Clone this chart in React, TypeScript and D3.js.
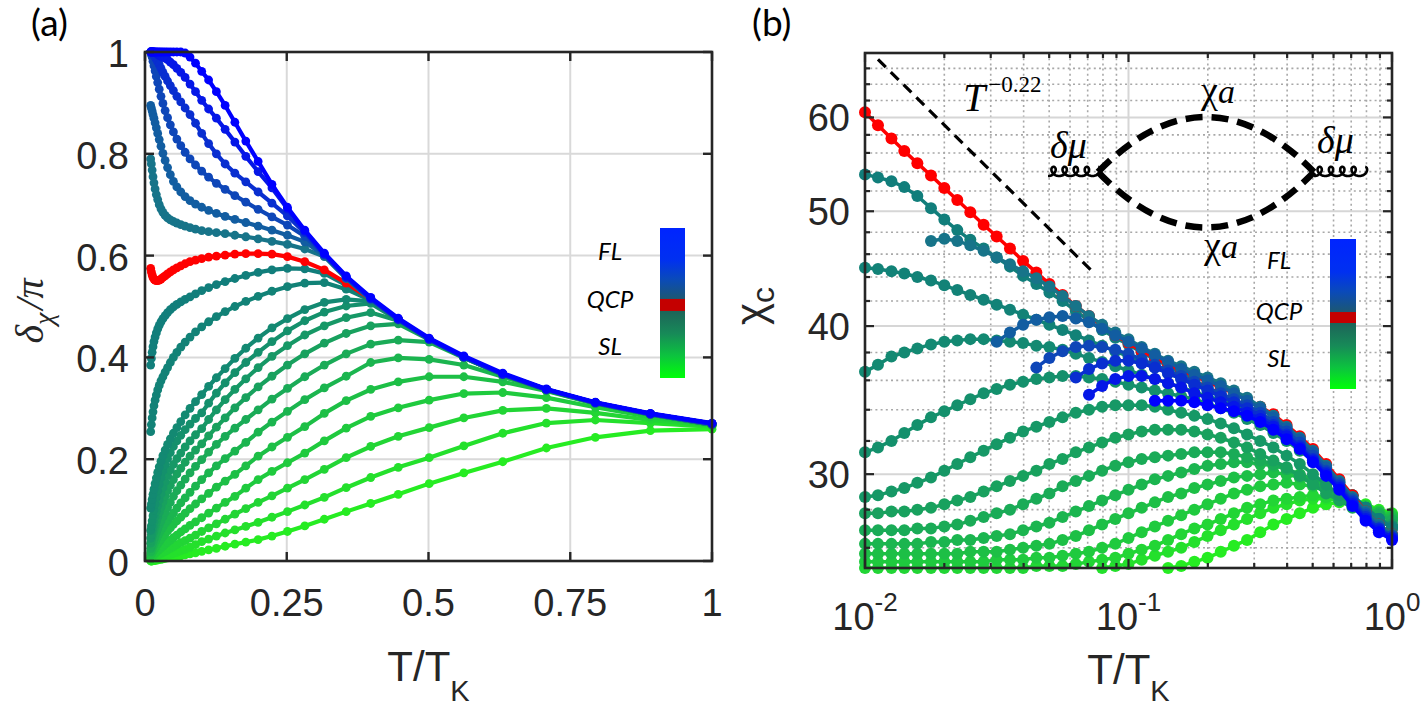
import React from 'react';
import * as d3 from 'd3';

// temperature grid shared by every curve (T/T_K, 20 points per decade)
const T_GRID = [
  0.0100, 0.0112, 0.0126, 0.0141, 0.0158, 0.0178, 0.0200, 0.0224, 0.0251, 0.0282,
  0.0316, 0.0355, 0.0398, 0.0447, 0.0501, 0.0562, 0.0631, 0.0708, 0.0794, 0.0891,
  0.1000, 0.1122, 0.1259, 0.1413, 0.1585, 0.1778, 0.1995, 0.2239, 0.2512, 0.2818,
  0.3162, 0.3548, 0.3981, 0.4467, 0.5012, 0.5623, 0.6310, 0.7079, 0.7943, 0.8913,
  1.0000,
];

// ---- panel (a): delta_chi / pi ----
const deltaQCP = [
  0.575, 0.568, 0.562, 0.557, 0.554, 0.552, 0.551, 0.551, 0.552, 0.554,
  0.557, 0.560, 0.564, 0.568, 0.572, 0.576, 0.580, 0.584, 0.588, 0.591,
  0.594, 0.597, 0.599, 0.601, 0.603, 0.604, 0.604, 0.603, 0.598, 0.588,
  0.572, 0.546, 0.514, 0.475, 0.436, 0.401, 0.367, 0.337, 0.311, 0.289,
  0.270,
];

// FL side, nearest to the QCP first
const deltaFL: number[][] = [
  [0.790, 0.780, 0.768, 0.755, 0.743, 0.731, 0.720, 0.710, 0.700, 0.692,
    0.685, 0.679, 0.674, 0.670, 0.667, 0.664, 0.661, 0.658, 0.655, 0.652,
    0.649, 0.647, 0.645, 0.643, 0.640, 0.637, 0.633, 0.628, 0.622, 0.613,
    0.598, 0.555, 0.513, 0.474, 0.435, 0.400, 0.367, 0.337, 0.311, 0.289, 0.270],
  [0.895, 0.890, 0.884, 0.877, 0.870, 0.861, 0.851, 0.840, 0.828, 0.815,
    0.801, 0.787, 0.773, 0.759, 0.746, 0.735, 0.725, 0.716, 0.708, 0.701,
    0.695, 0.689, 0.683, 0.677, 0.671, 0.665, 0.658, 0.650, 0.640, 0.627,
    0.600, 0.556, 0.514, 0.474, 0.436, 0.401, 0.367, 0.337, 0.311, 0.289, 0.270],
  [1.000, 0.995, 0.990, 0.982, 0.973, 0.963, 0.952, 0.940, 0.927, 0.913,
    0.899, 0.885, 0.871, 0.857, 0.843, 0.829, 0.816, 0.803, 0.790, 0.778,
    0.766, 0.754, 0.742, 0.730, 0.718, 0.705, 0.691, 0.676, 0.660, 0.638,
    0.602, 0.557, 0.515, 0.475, 0.436, 0.401, 0.367, 0.337, 0.311, 0.289, 0.270],
  [1.000, 0.999, 0.998, 0.996, 0.993, 0.990, 0.986, 0.981, 0.975, 0.968,
    0.960, 0.952, 0.943, 0.934, 0.924, 0.913, 0.902, 0.890, 0.877, 0.860,
    0.840, 0.820, 0.800, 0.780, 0.762, 0.745, 0.725, 0.703, 0.678, 0.645,
    0.603, 0.558, 0.516, 0.475, 0.436, 0.401, 0.367, 0.337, 0.311, 0.289, 0.270],
  [1.000, 1.000, 1.000, 1.000, 1.000, 0.999, 0.998, 0.996, 0.993, 0.992,
    0.990, 0.988, 0.985, 0.980, 0.975, 0.968, 0.960, 0.950, 0.937, 0.922,
    0.905, 0.888, 0.870, 0.848, 0.823, 0.795, 0.765, 0.733, 0.692, 0.648,
    0.603, 0.558, 0.516, 0.475, 0.436, 0.401, 0.367, 0.337, 0.311, 0.289, 0.270],
  [1.000, 1.000, 1.000, 1.000, 1.000, 1.000, 1.000, 1.000, 1.000, 1.000,
    1.000, 1.000, 1.000, 1.000, 1.000, 1.000, 1.000, 0.998, 0.990, 0.978,
    0.962, 0.945, 0.922, 0.895, 0.862, 0.825, 0.785, 0.740, 0.695, 0.650,
    0.605, 0.560, 0.518, 0.477, 0.438, 0.403, 0.369, 0.338, 0.312, 0.290, 0.271],
];

// SL side, nearest to the QCP first
const deltaSL: number[][] = [
  [0.385, 0.398, 0.410, 0.421, 0.431, 0.440, 0.448, 0.456, 0.463, 0.470,
    0.476, 0.482, 0.488, 0.494, 0.499, 0.504, 0.509, 0.514, 0.519, 0.525,
    0.531, 0.537, 0.543, 0.549, 0.555, 0.561, 0.567, 0.572, 0.575, 0.574,
    0.565, 0.542, 0.513, 0.474, 0.436, 0.401, 0.367, 0.337, 0.310, 0.288, 0.269],
  [0.254, 0.268, 0.281, 0.293, 0.305, 0.316, 0.326, 0.336, 0.345, 0.354,
    0.362, 0.371, 0.380, 0.390, 0.400, 0.410, 0.420, 0.430, 0.440, 0.450,
    0.460, 0.470, 0.480, 0.490, 0.500, 0.510, 0.520, 0.530, 0.539, 0.546,
    0.547, 0.534, 0.512, 0.474, 0.435, 0.400, 0.366, 0.336, 0.310, 0.288, 0.268],
  [0.104, 0.112, 0.121, 0.131, 0.141, 0.152, 0.163, 0.174, 0.185, 0.196,
    0.207, 0.218, 0.229, 0.240, 0.251, 0.262, 0.274, 0.287, 0.300, 0.313,
    0.327, 0.343, 0.360, 0.378, 0.398, 0.418, 0.438, 0.458, 0.476, 0.494,
    0.508, 0.514, 0.510, 0.474, 0.435, 0.400, 0.366, 0.336, 0.310, 0.288, 0.268],
  [0.060, 0.069, 0.079, 0.089, 0.100, 0.112, 0.125, 0.138, 0.151, 0.164,
    0.177, 0.189, 0.201, 0.213, 0.225, 0.236, 0.247, 0.258, 0.269, 0.280,
    0.291, 0.310, 0.330, 0.350, 0.370, 0.390, 0.410, 0.431, 0.452, 0.472,
    0.489, 0.501, 0.506, 0.473, 0.436, 0.400, 0.366, 0.336, 0.310, 0.288, 0.268],
  [0.045, 0.052, 0.060, 0.068, 0.077, 0.087, 0.098, 0.109, 0.120, 0.132,
    0.144, 0.156, 0.168, 0.179, 0.190, 0.201, 0.212, 0.224, 0.236, 0.248,
    0.260, 0.278, 0.297, 0.317, 0.337, 0.358, 0.380, 0.402, 0.423, 0.444,
    0.462, 0.478, 0.488, 0.472, 0.436, 0.400, 0.366, 0.336, 0.310, 0.288, 0.268],
  [0.035, 0.041, 0.047, 0.053, 0.060, 0.068, 0.077, 0.086, 0.096, 0.106,
    0.116, 0.127, 0.138, 0.149, 0.160, 0.171, 0.182, 0.194, 0.206, 0.218,
    0.230, 0.246, 0.263, 0.281, 0.301, 0.321, 0.342, 0.363, 0.385, 0.407,
    0.428, 0.447, 0.462, 0.466, 0.435, 0.400, 0.366, 0.336, 0.310, 0.288, 0.268],
  [0.025, 0.029, 0.033, 0.038, 0.043, 0.049, 0.056, 0.063, 0.071, 0.079,
    0.087, 0.096, 0.105, 0.115, 0.127, 0.138, 0.149, 0.161, 0.173, 0.186,
    0.199, 0.214, 0.229, 0.245, 0.261, 0.278, 0.297, 0.318, 0.339, 0.362,
    0.385, 0.407, 0.426, 0.434, 0.430, 0.399, 0.366, 0.336, 0.310, 0.288, 0.268],
  [0.018, 0.021, 0.025, 0.029, 0.033, 0.038, 0.043, 0.049, 0.055, 0.061,
    0.067, 0.074, 0.080, 0.087, 0.094, 0.104, 0.114, 0.124, 0.135, 0.147,
    0.160, 0.173, 0.187, 0.201, 0.216, 0.233, 0.253, 0.273, 0.294, 0.317,
    0.340, 0.363, 0.390, 0.399, 0.396, 0.385, 0.362, 0.335, 0.309, 0.288, 0.268],
  [0.012, 0.014, 0.017, 0.020, 0.023, 0.026, 0.030, 0.034, 0.038, 0.043,
    0.048, 0.053, 0.059, 0.065, 0.072, 0.079, 0.086, 0.094, 0.103, 0.112,
    0.122, 0.133, 0.145, 0.157, 0.170, 0.187, 0.206, 0.224, 0.243, 0.264,
    0.290, 0.315, 0.337, 0.352, 0.362, 0.362, 0.352, 0.334, 0.309, 0.287, 0.268],
  [0.007, 0.008, 0.010, 0.011, 0.013, 0.015, 0.018, 0.020, 0.023, 0.026,
    0.029, 0.033, 0.037, 0.041, 0.046, 0.051, 0.057, 0.063, 0.070, 0.077,
    0.085, 0.094, 0.104, 0.115, 0.127, 0.143, 0.160, 0.176, 0.193, 0.212,
    0.236, 0.261, 0.284, 0.301, 0.316, 0.329, 0.331, 0.321, 0.302, 0.283, 0.267],
  [0.004, 0.005, 0.006, 0.007, 0.008, 0.009, 0.010, 0.012, 0.013, 0.015,
    0.017, 0.019, 0.022, 0.025, 0.028, 0.032, 0.036, 0.040, 0.045, 0.051,
    0.058, 0.065, 0.073, 0.082, 0.092, 0.103, 0.115, 0.128, 0.143, 0.160,
    0.180, 0.203, 0.225, 0.245, 0.262, 0.281, 0.296, 0.300, 0.291, 0.277, 0.266],
  [0.002, 0.002, 0.003, 0.003, 0.004, 0.004, 0.005, 0.006, 0.007, 0.008,
    0.009, 0.010, 0.012, 0.013, 0.015, 0.017, 0.020, 0.023, 0.027, 0.032,
    0.038, 0.043, 0.049, 0.055, 0.061, 0.068, 0.076, 0.086, 0.097, 0.110,
    0.125, 0.144, 0.164, 0.184, 0.203, 0.226, 0.251, 0.271, 0.277, 0.271, 0.264],
  [0.000, 0.000, 0.000, 0.001, 0.001, 0.001, 0.002, 0.002, 0.003, 0.003,
    0.004, 0.005, 0.006, 0.007, 0.008, 0.009, 0.010, 0.012, 0.014, 0.016,
    0.019, 0.022, 0.025, 0.029, 0.033, 0.037, 0.042, 0.049, 0.058, 0.069,
    0.082, 0.097, 0.113, 0.131, 0.152, 0.173, 0.195, 0.222, 0.243, 0.256, 0.259],
];

// ---- panel (b): chi_c ----
const chiQCP = [
  60.6, 59.1, 57.6, 56.2, 54.9, 53.6, 52.3, 51.1, 49.9, 48.7,
  47.6, 46.5, 45.4, 44.4, 43.4, 42.5, 41.6, 40.8, 40.0, 39.3,
  38.7, 38.1, 37.6, 37.1, 36.7, 36.3, 35.9, 35.5, 35.1, 34.7,
  34.2, 33.7, 33.0, 32.3, 31.5, 30.6, 29.7, 28.8, 27.9, 27.2,
  26.7,
];

// FL curves in (b) begin part way along T_GRID: index of the first point
const chiFLStart = [5, 10, 13, 16, 17, 22];
const chiFL: number[][] = [
  [47.2, 47.4, 47.2, 46.8, 46.3, 45.7, 45.1, 44.5, 43.9, 43.2, 42.4, 41.6, 40.8, 40.1,
    39.5, 39.0, 38.4, 37.9, 37.4, 37.0, 36.6, 36.2, 35.8, 35.3, 34.8, 34.2, 33.6, 32.9,
    32.2, 31.4, 30.5, 29.6, 28.7, 27.9, 27.2, 26.7],
  [38.8, 39.5, 40.1, 40.5, 40.7, 40.8, 40.6, 40.3, 39.8, 39.3, 38.8, 38.3, 37.8, 37.3,
    36.8, 36.4, 36.0, 35.6, 35.1, 34.6, 34.1, 33.5, 32.8, 32.1, 31.3, 30.4, 29.5, 28.6,
    27.8, 27.1, 26.6],
  [36.9, 37.6, 38.1, 38.4, 38.5, 38.4, 38.2, 37.9, 37.5, 37.1, 36.7, 36.3, 35.9, 35.5,
    35.1, 34.7, 34.3, 33.8, 33.2, 32.6, 31.9, 31.1, 30.2, 29.4, 28.5, 27.7, 27.0, 26.6],
  [36.2, 36.8, 37.2, 37.4, 37.4, 37.2, 36.9, 36.5, 36.1, 35.7, 35.3, 34.9, 34.5, 34.1,
    33.6, 33.0, 32.4, 31.7, 30.9, 30.1, 29.3, 28.4, 27.6, 27.0, 26.5],
  [35.0, 35.6, 36.1, 36.3, 36.3, 36.1, 35.8, 35.5, 35.1, 34.8, 34.5, 34.2, 33.8, 33.4,
    32.9, 32.3, 31.6, 30.8, 30.0, 29.2, 28.3, 27.5, 26.9, 26.5],
  [34.6, 34.6, 34.6, 34.5, 34.3, 34.1, 33.9, 33.6, 33.2, 32.7, 32.1, 31.5, 30.7, 29.9,
    29.1, 28.2, 27.4, 26.8, 26.4],
];

const chiSL: number[][] = [
  [53.7, 53.4, 53.0, 52.4, 51.5, 50.3, 49.2, 48.2, 47.3, 46.5,
    45.7, 44.9, 44.1, 43.4, 42.7, 42.0, 41.2, 40.4, 39.7, 39.1,
    38.6, 38.0, 37.5, 37.0, 36.5, 36.0, 35.5, 35.0, 34.6, 34.1,
    33.6, 33.0, 32.4, 31.7, 31.0, 30.3, 29.6, 28.8, 28.1, 27.5, 27.0],
  [44.8, 44.7, 44.5, 44.3, 44.0, 43.7, 43.3, 42.9, 42.5, 42.1,
    41.7, 41.3, 40.9, 40.5, 40.1, 39.7, 39.3, 38.9, 38.5, 38.1,
    37.7, 37.3, 36.9, 36.5, 36.1, 35.7, 35.3, 34.9, 34.4, 33.9,
    33.4, 32.8, 32.2, 31.6, 30.9, 30.2, 29.5, 28.8, 28.1, 27.5, 27.0],
  [36.6, 37.1, 37.7, 38.0, 38.3, 38.6, 38.8, 38.9, 39.0, 39.0,
    38.9, 38.8, 38.7, 38.5, 38.4, 38.2, 37.9, 37.6, 37.3, 37.0,
    36.7, 36.4, 36.1, 35.8, 35.5, 35.2, 34.9, 34.6, 34.2, 33.8,
    33.3, 32.8, 32.2, 31.6, 30.9, 30.2, 29.5, 28.8, 28.1, 27.5, 27.1],
  [31.3, 31.6, 32.0, 32.5, 33.0, 33.5, 33.9, 34.3, 34.7, 35.1,
    35.4, 35.7, 35.9, 36.1, 36.2, 36.3, 36.3, 36.2, 36.1, 35.9,
    35.7, 35.5, 35.3, 35.1, 34.9, 34.7, 34.4, 34.1, 33.8, 33.4,
    33.0, 32.5, 32.0, 31.4, 30.8, 30.1, 29.4, 28.7, 28.1, 27.5, 27.1],
  [28.7, 28.8, 29.0, 29.2, 29.5, 29.8, 30.2, 30.6, 31.0, 31.4,
    31.8, 32.2, 32.6, 32.9, 33.2, 33.5, 33.8, 34.0, 34.2, 34.3,
    34.3, 34.3, 34.2, 34.0, 33.8, 33.6, 33.4, 33.1, 32.8, 32.4,
    32.0, 31.6, 31.1, 30.6, 30.0, 29.4, 28.8, 28.3, 27.8, 27.4, 27.1],
  [27.8, 27.8, 27.9, 27.9, 28.0, 28.1, 28.3, 28.5, 28.7, 29.0,
    29.3, 29.6, 29.9, 30.2, 30.6, 30.9, 31.3, 31.6, 31.9, 32.2,
    32.4, 32.6, 32.7, 32.7, 32.7, 32.6, 32.4, 32.2, 31.9, 31.6,
    31.2, 30.8, 30.4, 29.9, 29.4, 28.9, 28.5, 28.1, 27.8, 27.5, 27.2],
  [26.9, 26.9, 26.9, 26.9, 27.0, 27.0, 27.1, 27.2, 27.4, 27.6,
    27.8, 28.0, 28.3, 28.6, 28.9, 29.3, 29.6, 29.9, 30.2, 30.5,
    30.7, 30.9, 31.0, 31.1, 31.2, 31.3, 31.3, 31.3, 31.2, 31.0,
    30.8, 30.6, 30.3, 29.9, 29.5, 29.1, 28.7, 28.3, 28.0, 27.7, 27.4],
  [26.2, 26.2, 26.2, 26.2, 26.2, 26.3, 26.3, 26.4, 26.4, 26.5,
    26.6, 26.7, 26.9, 27.1, 27.3, 27.6, 27.9, 28.2, 28.5, 28.8,
    29.1, 29.4, 29.7, 29.9, 30.1, 30.3, 30.5, 30.6, 30.7, 30.7,
    30.6, 30.5, 30.3, 30.0, 29.7, 29.3, 28.9, 28.5, 28.1, 27.8, 27.5],
  [25.7, 25.7, 25.7, 25.7, 25.7, 25.7, 25.7, 25.7, 25.8, 25.8,
    25.8, 25.9, 26.0, 26.1, 26.2, 26.4, 26.6, 26.9, 27.2, 27.5,
    27.8, 28.1, 28.4, 28.7, 28.9, 29.2, 29.4, 29.6, 29.8, 29.9,
    30.0, 30.1, 30.0, 29.8, 29.5, 29.2, 28.8, 28.4, 28.1, 27.8, 27.6],
  [25.3, 25.3, 25.3, 25.3, 25.3, 25.3, 25.3, 25.3, 25.3, 25.3,
    25.4, 25.4, 25.4, 25.5, 25.5, 25.6, 25.7, 25.8, 26.0, 26.2,
    26.5, 26.8, 27.1, 27.4, 27.7, 28.0, 28.3, 28.6, 28.9, 29.1,
    29.3, 29.4, 29.5, 29.4, 29.3, 29.1, 28.8, 28.5, 28.2, 27.9, 27.7],
  [25.0, 25.0, 25.0, 25.0, 25.0, 25.0, 25.0, 25.0, 25.0, 25.0,
    25.0, 25.0, 25.0, 25.1, 25.1, 25.1, 25.2, 25.3, 25.4, 25.5,
    25.7, 25.9, 26.1, 26.4, 26.7, 27.0, 27.2, 27.5, 27.8, 28.1,
    28.3, 28.5, 28.6, 28.7, 28.8, 28.7, 28.6, 28.4, 28.2, 27.9, 27.7],
  [24.8, 24.8, 24.8, 24.8, 24.8, 24.8, 24.8, 24.8, 24.8, 24.8,
    24.8, 24.8, 24.8, 24.8, 24.8, 24.8, 24.9, 24.9, 25.0, 25.1,
    25.2, 25.4, 25.6, 25.8, 26.0, 26.3, 26.6, 26.9, 27.2, 27.5,
    27.8, 28.1, 28.3, 28.5, 28.6, 28.6, 28.5, 28.4, 28.2, 27.9, 27.7],
  [24.5, 24.5, 24.5, 24.5, 24.5, 24.5, 24.5, 24.5, 24.5, 24.5,
    24.5, 24.5, 24.5, 24.5, 24.5, 24.5, 24.5, 24.5, 24.5, 24.5,
    24.5, 24.6, 24.8, 25.0, 25.1, 25.3, 25.5, 25.8, 26.1, 26.4,
    26.8, 27.2, 27.5, 27.8, 28.1, 28.3, 28.4, 28.4, 28.3, 28.0, 27.8],
];

// axes
const aXTicks = [0, 0.25, 0.5, 0.75, 1];
const aXTickLabels = ['0', '0.25', '0.5', '0.75', '1'];
const aYTicks = [0, 0.2, 0.4, 0.6, 0.8, 1];
const aYTickLabels = ['0', '0.2', '0.4', '0.6', '0.8', '1'];
const bXTicks = [0.01, 0.1, 1];
const bXTickExps = ['-2', '-1', '0'];
const bXMinor = [0.02, 0.03, 0.04, 0.05, 0.06, 0.07, 0.08, 0.09, 0.2, 0.3, 0.4, 0.5, 0.6, 0.7, 0.8, 0.9];
const bYTicks = [30, 40, 50, 60];
const bYMinor = [26, 28, 32, 34, 36, 38, 42, 44, 46, 48, 52, 54, 56, 58, 62, 64, 66];

// power-law guide  chi ~ T^-0.22
const guideT = [0.0112, 0.0728];
const guideExp = -0.22;
const guidePrefactor = 25;

const W = 1427;
const H = 709;
const A = { l: 145, r: 712, t: 52, b: 561 };
const B = { l: 865, r: 1392, t: 53, b: 568 };

const xa = d3.scaleLinear().domain([0, 1]).range([A.l, A.r]);
const ya = d3.scaleLinear().domain([0, 1]).range([A.b, A.t]);
const xb = d3.scaleLog().domain([0.01, 1]).range([B.l, B.r]);
const yb = d3.scaleLog().domain([25, 68]).range([B.b, B.t]);

const flColor = (i: number, n: number) => d3.interpolateRgb('#177489', '#0000ff')(i / (n - 1));
const slColor = (i: number, n: number) =>
  d3.interpolateRgb('#117e7b', '#26ec22')(Math.pow(i / (n - 1), 1.3));
const QCP_COLOR = '#ff0000';

const AX = '#262626';
const SANS = "'Liberation Sans', Arial, Helvetica, sans-serif";
const SERIF = "'Liberation Serif', 'Times New Roman', serif";
const LABEL = "Lato, 'Open Sans', sans-serif";

const pathGen = d3.line<[number, number]>().x(d => d[0]).y(d => d[1]);

type Pt = [number, number];

function Series({ line, dots, color, lw, r, clip }: {
  line: Pt[]; dots: Pt[]; color: string; lw: number; r: number; clip?: string;
}) {
  return (
    <g>
      <path d={pathGen(line) ?? ''} fill="none" stroke={color} strokeWidth={lw}
        strokeLinejoin="round" clipPath={clip} />
      {dots.map((p, i) => <circle key={i} cx={p[0]} cy={p[1]} r={r} fill={color} />)}
    </g>
  );
}

function ColorBar({ id, x, y, w, h, rs, re }: {
  id: string; x: number; y: number; w: number; h: number; rs: number; re: number;
}) {
  return (
    <g>
      <defs>
        <linearGradient id={id} x1="0" y1="0" x2="0" y2="1">
          <stop offset="0" stopColor="#0024ff" />
          <stop offset={rs * 0.45} stopColor="#0030f0" />
          <stop offset={rs * 0.72} stopColor="#0a4aba" />
          <stop offset={rs} stopColor="#1c5872" />
          <stop offset={re} stopColor="#1d6459" />
          <stop offset={re + 0.15} stopColor="#178a58" />
          <stop offset={re + 0.3} stopColor="#0cc43e" />
          <stop offset="1" stopColor="#00ff08" />
        </linearGradient>
      </defs>
      <rect x={x} y={y} width={w} height={h} fill={`url(#${id})`} />
      <rect x={x} y={y + rs * h} width={w} height={(re - rs) * h} fill="#c40000" />
    </g>
  );
}

function BarLabels({ cx, ys }: { cx: number; ys: number[] }) {
  const names = ['FL', 'QCP', 'SL'];
  return (
    <g fontFamily={LABEL} fontStyle="italic" fontSize={24} fill="#000" textAnchor="middle">
      {names.map((n, i) => <text key={n} x={cx} y={ys[i]}>{n}</text>)}
    </g>
  );
}

function coilPath(x0: number, x1: number, y0: number, loops: number) {
  const k = (x1 - x0) / (2 * Math.PI * loops);
  const r = 4.6;
  const pts: Pt[] = [];
  for (let th = 0; th <= 2 * Math.PI * loops + 1e-6; th += 0.12) {
    pts.push([x0 + k * th + r * Math.sin(th), y0 - r * (1 - Math.cos(th))]);
  }
  return d3.line<Pt>().curve(d3.curveCatmullRom)(pts) ?? '';
}

function PanelA() {
  const nFL = deltaFL.length;
  const nSL = deltaSL.length;
  const toPts = (vals: number[]): Pt[] => vals.map((v, j) => [xa(T_GRID[j]), ya(v)]);
  const lw = 4.2;
  const r = 4.4;
  return (
    <g>
      {/* grid */}
      <g stroke="#d9d9d9" strokeWidth={2}>
        {aXTicks.slice(1, -1).map(t => <line key={t} x1={xa(t)} x2={xa(t)} y1={A.t} y2={A.b} />)}
        {aYTicks.slice(1, -1).map(t => <line key={t} x1={A.l} x2={A.r} y1={ya(t)} y2={ya(t)} />)}
      </g>
      {/* SL far -> near, then QCP, then FL near -> far */}
      {deltaSL.map((_, k) => {
        const i = nSL - 1 - k;
        const pts = toPts(deltaSL[i]);
        return <Series key={'s' + i} line={pts} dots={pts} color={slColor(i, nSL)} lw={lw} r={r} />;
      })}
      <Series line={toPts(deltaQCP)} dots={toPts(deltaQCP)} color={QCP_COLOR} lw={lw} r={r} />
      {deltaFL.map((vals, i) => {
        const pts = toPts(vals);
        return <Series key={'f' + i} line={pts} dots={pts} color={flColor(i, nFL)} lw={lw} r={r} />;
      })}
      {/* box + ticks */}
      <rect x={A.l} y={A.t} width={A.r - A.l} height={A.b - A.t} fill="none" stroke={AX} strokeWidth={2.6} />
      <g stroke={AX} strokeWidth={2.4}>
        {aXTicks.map(t => (
          <g key={t}>
            <line x1={xa(t)} x2={xa(t)} y1={A.b} y2={A.b - 9} />
            <line x1={xa(t)} x2={xa(t)} y1={A.t} y2={A.t + 9} />
          </g>
        ))}
        {aYTicks.map(t => (
          <g key={t}>
            <line x1={A.l} x2={A.l + 9} y1={ya(t)} y2={ya(t)} />
            <line x1={A.r} x2={A.r - 9} y1={ya(t)} y2={ya(t)} />
          </g>
        ))}
      </g>
      <g fontFamily={SANS} fontSize={38} fill={AX}>
        {aXTicks.map((t, i) => (
          <text key={t} x={xa(t)} y={616} textAnchor="middle">{aXTickLabels[i]}</text>
        ))}
        {aYTicks.map((t, i) => (
          <text key={t} x={129} y={ya(t) + 15} textAnchor="end">{aYTickLabels[i]}</text>
        ))}
      </g>
      <text x={(A.l + A.r) / 2} y={681} textAnchor="middle" fontFamily={SANS} fontSize={42} fill={AX}>
        T/T<tspan fontSize={29} dy={20}>K</tspan>
      </text>
      <text transform={`translate(43,311) rotate(-90)`} textAnchor="middle" fontFamily={SERIF}
        fontStyle="italic" fontSize={40} fill={AX}>
        δ<tspan fontSize={28} dy={10}>χ</tspan><tspan dy={-10} dx={3}>/π</tspan>
      </text>
      <ColorBar id="cbA" x={660} y={228} w={25} h={150} rs={0.473} re={0.553} />
      <BarLabels cx={610} ys={[260, 308, 355]} />
      <text x={31} y={36} fontFamily={LABEL} fontSize={37} fill="#000">(a)</text>
    </g>
  );
}

function PanelB() {
  const nFL = chiFL.length;
  const nSL = chiSL.length;
  const [yLo, yHi] = yb.domain();
  const build = (vals: number[], start: number) => {
    const line: Pt[] = vals.map((v, j) => [xb(T_GRID[start + j]), yb(v)]);
    const dots: Pt[] = vals
      .map((v, j) => ({ v, p: [xb(T_GRID[start + j]), yb(v)] as Pt }))
      .filter(d => d.v >= yLo && d.v <= yHi)
      .map(d => d.p);
    return { line, dots };
  };
  const lw = 3.5;
  const r = 6;
  const guide: Pt[] = guideT.map(t => [xb(t), yb(guidePrefactor * Math.pow(t, guideExp))]);
  return (
    <g>
      <defs>
        <clipPath id="clipB">
          <rect x={B.l} y={B.t} width={B.r - B.l} height={B.b - B.t} />
        </clipPath>
      </defs>
      {/* minor dotted grid */}
      <g stroke="#a8a8a8" strokeWidth={1.6} strokeDasharray="2 3.2">
        {bXMinor.map(t => <line key={t} x1={xb(t)} x2={xb(t)} y1={B.t} y2={B.b} />)}
        {bYMinor.map(t => <line key={t} x1={B.l} x2={B.r} y1={yb(t)} y2={yb(t)} />)}
      </g>
      {/* major grid */}
      <g stroke="#d6d6d6" strokeWidth={2}>
        <line x1={xb(0.1)} x2={xb(0.1)} y1={B.t} y2={B.b} />
        {bYTicks.map(t => <line key={t} x1={B.l} x2={B.r} y1={yb(t)} y2={yb(t)} />)}
      </g>
      {chiSL.map((_, k) => {
        const i = nSL - 1 - k;
        const s = build(chiSL[i], 0);
        return <Series key={'s' + i} line={s.line} dots={s.dots} color={slColor(i, nSL)} lw={lw} r={r} clip="url(#clipB)" />;
      })}
      {(() => {
        const s = build(chiQCP, 0);
        return <Series line={s.line} dots={s.dots} color={QCP_COLOR} lw={lw} r={r} clip="url(#clipB)" />;
      })()}
      {chiFL.map((vals, i) => {
        const s = build(vals, chiFLStart[i]);
        return <Series key={'f' + i} line={s.line} dots={s.dots} color={flColor(i, nFL)} lw={lw} r={r} clip="url(#clipB)" />;
      })}
      {/* guide line */}
      <path d={pathGen(guide) ?? ''} stroke="#000" strokeWidth={3.2} strokeDasharray="11 7" fill="none" />
      <text x={963} y={111} fontFamily={SERIF} fontStyle="italic" fontSize={40} fill="#000">
        T<tspan fontStyle="normal" fontSize={23} dy={-19} dx={3}>−0.22</tspan>
      </text>
      {/* bubble diagram */}
      <g fill="none" stroke="#000">
        <path d="M1098 172 Q1206 62 1314 172" strokeWidth={6.5} strokeDasharray="17 9" />
        <path d="M1098 172 Q1206 283 1314 172" strokeWidth={6.5} strokeDasharray="17 9" />
        <path d={coilPath(1048, 1098, 176, 4.5)} strokeWidth={2.6} />
        <path d={coilPath(1314, 1365, 176, 4.5)} strokeWidth={2.6} />
      </g>
      <g fontFamily={SERIF} fontSize={38} fill="#000">
        <text x={1050} y={158} fontStyle="italic">δμ</text>
        <text x={1317} y={153} fontStyle="italic">δμ</text>
        <text x={1201} y={103}>χ<tspan fontSize={34} fontStyle="italic">a</tspan></text>
        <text x={1204} y={258}>χ<tspan fontSize={34} fontStyle="italic">a</tspan></text>
      </g>
      {/* box + ticks */}
      <rect x={B.l} y={B.t} width={B.r - B.l} height={B.b - B.t} fill="none" stroke={AX} strokeWidth={2.6} />
      <g stroke={AX} strokeWidth={2.2}>
        {bXTicks.map(t => (
          <g key={t}>
            <line x1={xb(t)} x2={xb(t)} y1={B.b} y2={B.b - 9} />
            <line x1={xb(t)} x2={xb(t)} y1={B.t} y2={B.t + 9} />
          </g>
        ))}
        {bXMinor.map(t => (
          <g key={t}>
            <line x1={xb(t)} x2={xb(t)} y1={B.b} y2={B.b - 5} />
            <line x1={xb(t)} x2={xb(t)} y1={B.t} y2={B.t + 5} />
          </g>
        ))}
        {bYTicks.map(t => (
          <g key={t}>
            <line x1={B.l} x2={B.l + 9} y1={yb(t)} y2={yb(t)} />
            <line x1={B.r} x2={B.r - 9} y1={yb(t)} y2={yb(t)} />
          </g>
        ))}
        {bYMinor.map(t => (
          <g key={t}>
            <line x1={B.l} x2={B.l + 5} y1={yb(t)} y2={yb(t)} />
            <line x1={B.r} x2={B.r - 5} y1={yb(t)} y2={yb(t)} />
          </g>
        ))}
      </g>
      <g fontFamily={SANS} fontSize={38} fill={AX}>
        {bXTicks.map((t, i) => (
          <text key={t} x={xb(t)} y={630} textAnchor="middle">
            10<tspan fontSize={26} dy={-19}>{bXTickExps[i]}</tspan>
          </text>
        ))}
        {bYTicks.map(t => (
          <text key={t} x={850} y={yb(t) + 14} textAnchor="end">{t}</text>
        ))}
      </g>
      <text x={(B.l + B.r) / 2} y={684} textAnchor="middle" fontFamily={SANS} fontSize={42} fill={AX}>
        T/T<tspan fontSize={29} dy={17}>K</tspan>
      </text>
      <text transform="translate(765,306) rotate(-90)" textAnchor="middle" fontFamily={SANS}
        fontSize={42} fill={AX}>
        χ<tspan fontSize={32} dy={9}>c</tspan>
      </text>
      <ColorBar id="cbB" x={1330} y={239} w={26} h={150} rs={0.487} re={0.56} />
      <BarLabels cx={1279} ys={[269, 320, 367]} />
      <text x={752} y={36} fontFamily={LABEL} fontSize={37} fill="#000">(b)</text>
    </g>
  );
}

export default function App() {
  return (
    <svg width={W} height={H} viewBox={`0 0 ${W} ${H}`}
      style={{ position: 'absolute', left: 0, top: 0, background: '#fff' }}>
      <rect width={W} height={H} fill="#fff" />
      <PanelA />
      <PanelB />
    </svg>
  );
}
